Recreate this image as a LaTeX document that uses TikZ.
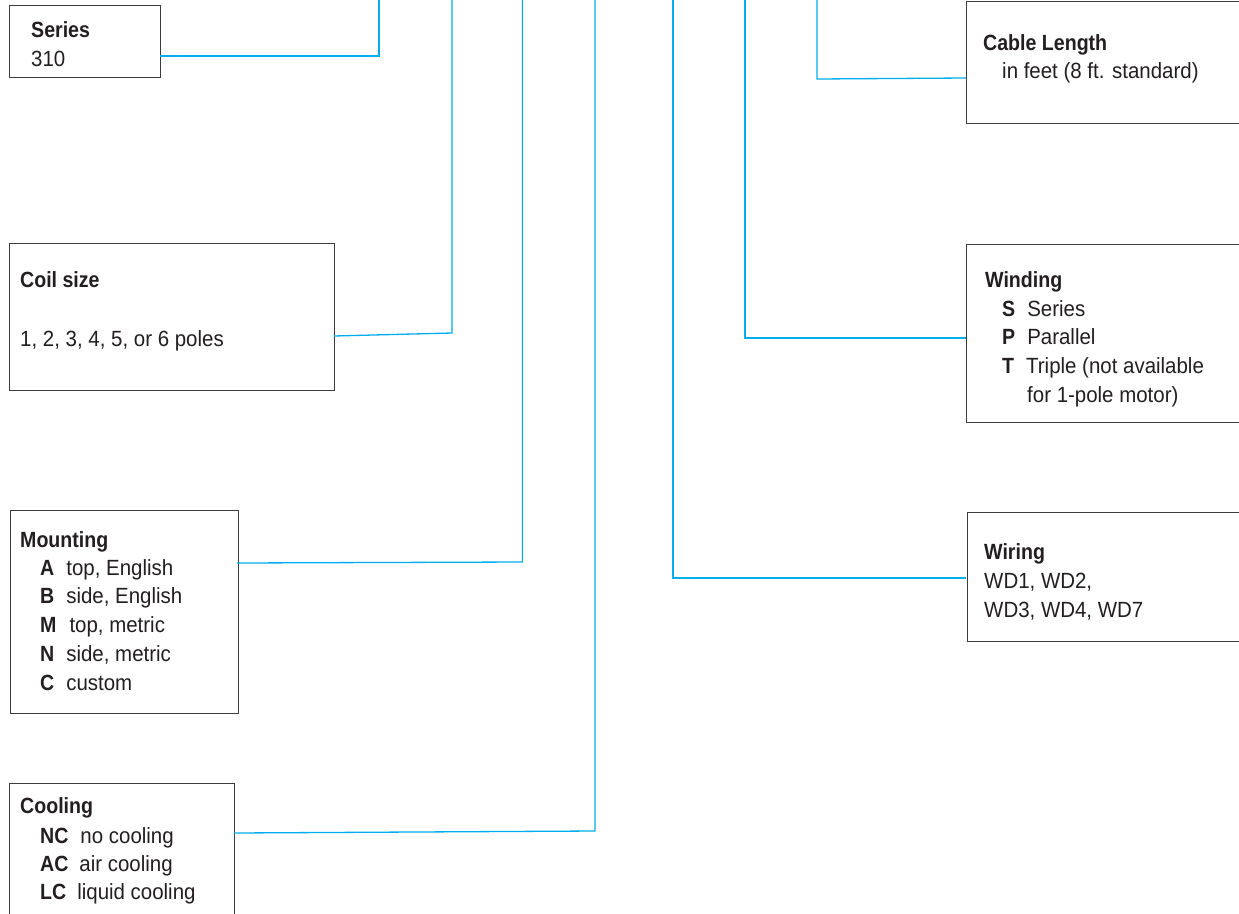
\documentclass[tikz,border=0pt]{standalone}
\usepackage{fontspec}
\setmainfont{Liberation Sans}[FakeStretch=0.93, BoldFeatures={FakeStretch=0.89}]
\definecolor{cyanline}{RGB}{0,174,239}
\definecolor{boxgray}{RGB}{60,60,60}
\definecolor{txt}{RGB}{35,31,32}
\begin{document}
\begin{tikzpicture}[x=1pt,y=-1pt,
  box/.style={draw=boxgray, line width=1.4pt, rectangle, inner sep=0pt, anchor=north west},
  lbl/.style={anchor=base west, inner sep=0pt, text=txt, font=\fontsize{22}{26}\selectfont},
  conn/.style={draw=cyanline, line width=1.3pt}]
\useasboundingbox (0,0) rectangle (1239,913);
\clip (0,0) rectangle (1239,913);
\fill[white] (0,0) rectangle (1239,913);

% boxes
\node[box, minimum width=151pt, minimum height=72pt] (series) at (9,5) {};
\node[box, minimum width=325pt, minimum height=147pt] (coil) at (9,243) {};
\node[box, minimum width=228pt, minimum height=203pt] (mount) at (9.5,510) {};
\node[box, minimum width=225pt, minimum height=150pt] (cool) at (9,783) {};
\node[box, minimum width=290pt, minimum height=121.5pt] (cable) at (966,1) {};
\node[box, minimum width=290pt, minimum height=178pt] (wind) at (966,244) {};
\node[box, minimum width=290pt, minimum height=129pt] (wiring) at (966.5,512) {};

% texts
\node[lbl] (seriesT) at (31,37) {\textbf{Series}};
\node[lbl] (seriesV) at (31,66) {310};

\node[lbl] (coilT) at (20,287) {\textbf{Coil size}};
\node[lbl] (coilV) at (20,346) {1, 2, 3, 4, 5, or 6 poles};

\node[lbl] (mountT) at (20,547) {\textbf{Mounting}};
\node[lbl] (mountA) at (40,575) {\textbf{A}\hspace{12pt}top, English};
\node[lbl] (mountB) at (40,603) {\textbf{B}\hspace{12pt}side, English};
\node[lbl] (mountM) at (40,632) {\textbf{M}\hspace{13pt}top, metric};
\node[lbl] (mountN) at (40,661) {\textbf{N}\hspace{12pt}side, metric};
\node[lbl] (mountC) at (40,690) {\textbf{C}\hspace{12pt}custom};

\node[lbl] (coolT) at (20,813) {\textbf{Cooling}};
\node[lbl] (coolNC) at (40,843) {\textbf{NC}\hspace{12pt}no cooling};
\node[lbl] (coolAC) at (40,871) {\textbf{AC}\hspace{11pt}air cooling};
\node[lbl] (coolLC) at (40,899) {\textbf{LC}\hspace{11pt}liquid cooling};

\node[lbl] (cableT) at (983,50) {\textbf{Cable Length}};
\node[lbl] (cableV) at (1002,78) {in feet (8 ft. standard)};

\node[lbl] (windT) at (985,287) {\textbf{Winding}};
\node[lbl] (windS) at (1002,316) {\textbf{S}\hspace{12pt}Series};
\node[lbl] (windP) at (1002,344) {\textbf{P}\hspace{12pt}Parallel};
\node[lbl] (windTT) at (1002,373) {\textbf{T}\hspace{12pt}Triple (not available};
\node[lbl] (windT2) at (1027,402) {for 1-pole motor)};

\node[lbl] (wiringT) at (984,559) {\textbf{Wiring}};
\node[lbl] (wiringA) at (984,588) {WD1, WD2,};
\node[lbl] (wiringB) at (984,617) {WD3, WD4, WD7};

% connector points
\coordinate (p1) at (160,56);  \coordinate (e1) at (379,56);   \coordinate (t1) at (379,0);
\coordinate (p2) at (334,336); \coordinate (e2) at (452,333);  \coordinate (t2) at (452,0);
\coordinate (p3) at (237,563); \coordinate (e3) at (522.5,562);\coordinate (t3) at (522.5,0);
\coordinate (p4) at (234,833); \coordinate (e4) at (595,831);  \coordinate (t4) at (595,0);
\coordinate (p5) at (966,78);  \coordinate (e5) at (817,79);   \coordinate (t5) at (817,0);
\coordinate (p6) at (966,338); \coordinate (e6) at (745,338);  \coordinate (t6) at (745,0);
\coordinate (p7) at (966,578); \coordinate (e7) at (673,578);  \coordinate (t7) at (673,0);

\draw[conn] (p1) -- (e1) -- (t1);
\draw[conn] (p2) -- (e2) -- (t2);
\draw[conn] (p3) -- (e3) -- (t3);
\draw[conn] (p4) -- (e4) -- (t4);
\draw[conn] (p5) -- (e5) -- (t5);
\draw[conn] (p6) -- (e6) -- (t6);
\draw[conn] (p7) -- (e7) -- (t7);
\end{tikzpicture}
\end{document}
